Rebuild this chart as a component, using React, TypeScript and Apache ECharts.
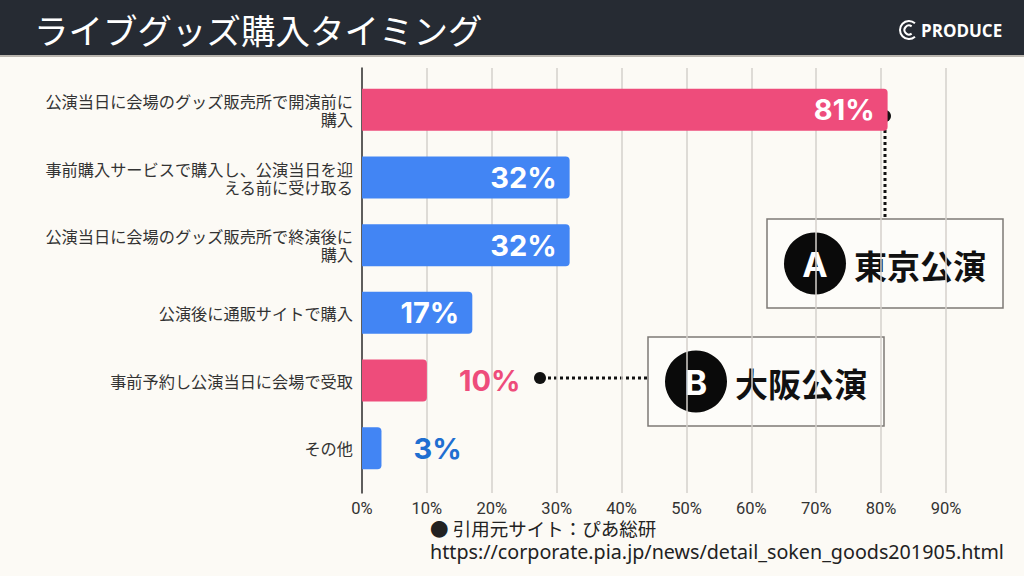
import React, { useEffect, useRef } from "react";
import * as echarts from "echarts";

const title = "ライブグッズ購入タイミング";
const categories = [
  "公演当日に会場のグッズ販売所で開演前に\n購入",
  "事前購入サービスで購入し、公演当日を迎\nえる前に受け取る",
  "公演当日に会場のグッズ販売所で終演後に\n購入",
  "公演後に通販サイトで購入",
  "事前予約し公演当日に会場で受取",
  "その他",
];
const values = [81, 32, 32, 17, 10, 3];
const highlighted = [true, false, false, false, true, false];
const xTicks = [0, 10, 20, 30, 40, 50, 60, 70, 80, 90];
const calloutA = { letter: "A", text: "東京公演" };
const calloutB = { letter: "B", text: "大阪公演" };
const sourceLines = ["● 引用元サイト：ぴあ総研", "https://corporate.pia.jp/news/detail_soken_goods201905.html"];

const PINK = "#ee4c7b";
const BLUE = "#4285f4";
const DARKBLUE = "#1f6fd1";
const JP = "'Noto Sans CJK JP', 'Noto Sans', sans-serif";

export default function App() {
  const ref = useRef<HTMLDivElement>(null);
  useEffect(() => {
    if (!ref.current) return;
    const chart = echarts.init(ref.current, null, { renderer: "svg" });
    const data = values.map((v, i) => {
      const inside = v >= 15;
      return {
        value: v,
        itemStyle: { color: highlighted[i] ? PINK : BLUE, borderRadius: [0, 4, 4, 0] },
        label: inside
          ? { position: "insideRight", distance: 13, color: "#ffffff" }
          : { position: "right", distance: 32, color: highlighted[i] ? PINK : DARKBLUE },
      };
    });
    const callout = (c: { letter: string; text: string }, x: number, y: number) => ({
      type: "group",
      x,
      y,
      children: [
        { type: "rect", shape: { x: 0, y: 0, width: 236, height: 89 }, style: { fill: "#fdfcf9", stroke: "#7d7975", lineWidth: 1.5 } },
        { type: "circle", shape: { cx: 48, cy: 44.5, r: 31 }, style: { fill: "#0a0a0a" } },
        { type: "text", x: 48, y: 45, style: { text: c.letter, fill: "#fff", font: "bold 34px Inter, sans-serif", align: "center", verticalAlign: "middle" } },
        { type: "text", x: 87, y: 46, style: { text: c.text, fill: "#111", font: "bold 33px " + JP, verticalAlign: "middle" } },
      ],
    });
    chart.setOption({
      animation: false,
      backgroundColor: "#fcfaf5",
      grid: [
        { left: 362, right: 78, top: 76, height: 406 },
        { left: 362, right: 78, top: 68, height: 425 },
      ],
      xAxis: [
        { gridIndex: 0, type: "value", min: 0, max: 90, interval: 10, axisLabel: { show: false }, splitLine: { show: false }, axisLine: { show: false }, axisTick: { show: false } },
        {
          gridIndex: 1, type: "value", min: xTicks[0], max: xTicks[xTicks.length - 1], interval: 10,
          axisLabel: { formatter: "{value}%", color: "#333", fontSize: 16.5, fontFamily: "Roboto, sans-serif", margin: 7, lineHeight: 17 },
          splitLine: { show: true, lineStyle: { color: "#d5d1cb", width: 1.5 } },
          axisLine: { show: false }, axisTick: { show: false },
        },
      ],
      yAxis: [
        {
          gridIndex: 0, type: "category", inverse: true, data: categories,
          axisLine: { show: false }, axisTick: { show: false },
          axisLabel: { color: "#333", fontSize: 16.2, fontFamily: JP, lineHeight: 18, align: "right", margin: 9 },
        },
        {
          gridIndex: 1, type: "value", min: 0, max: 1,
          axisLine: { show: true, lineStyle: { color: "#333", width: 1.5 } },
          axisLabel: { show: false }, axisTick: { show: false }, splitLine: { show: false },
        },
      ],
      series: [
        {
          type: "bar", xAxisIndex: 0, yAxisIndex: 0, data, barWidth: 42,
          label: { show: true, formatter: "{c}%", fontSize: 29, fontWeight: "bold", fontFamily: "Inter, sans-serif" },
        },
      ],
      graphic: [
        { type: "rect", shape: { x: 0, y: 0, width: 1024, height: 55 }, style: { fill: "#262b33" } },
        { type: "rect", shape: { x: 0, y: 55, width: 1024, height: 2 }, style: { fill: "#b9b5ae" } },
        { type: "text", x: 34, y: 29, style: { text: title, fill: "#fff", font: "34.5px " + JP, verticalAlign: "middle" } },
        { type: "arc", shape: { cx: 909, cy: 30, r: 9, startAngle: Math.PI * 0.27, endAngle: Math.PI * 1.73 }, style: { stroke: "#fff", lineWidth: 2, fill: "none" } },
        { type: "arc", shape: { cx: 909, cy: 30, r: 4.5, startAngle: Math.PI * 0.3, endAngle: Math.PI * 1.7 }, style: { stroke: "#fff", lineWidth: 2, fill: "none" } },
        { type: "text", x: 921, y: 30, style: { text: "PRODUCE", fill: "#fff", font: "700 17px 'Open Sans', sans-serif", verticalAlign: "middle" } },
        callout(calloutA, 767, 219),
        callout(calloutB, 648, 337),
        { type: "line", shape: { x1: 885, y1: 118, x2: 885, y2: 219 }, style: { stroke: "#111", lineWidth: 3, lineDash: [3, 3] } },
        { type: "circle", shape: { cx: 885, cy: 116, r: 6 }, style: { fill: "#111" } },
        { type: "line", shape: { x1: 542, y1: 378, x2: 648, y2: 378 }, style: { stroke: "#111", lineWidth: 3, lineDash: [3, 3] } },
        { type: "circle", shape: { cx: 540, cy: 378, r: 6 }, style: { fill: "#111" } },
        { type: "text", x: 430, y: 528, style: { text: sourceLines[0], fill: "#222", font: "18.5px " + JP, verticalAlign: "middle", lineHeight: 20 } },
        { type: "text", x: 430, y: 551, style: { text: sourceLines[1], fill: "#222", font: "19.7px 'Noto Sans', sans-serif", verticalAlign: "middle", lineHeight: 21 } },
      ],
    });
    return () => chart.dispose();
  }, []);
  return <div ref={ref} style={{ position: "fixed", left: 0, top: 0, width: 1024, height: 576 }} />;
}
